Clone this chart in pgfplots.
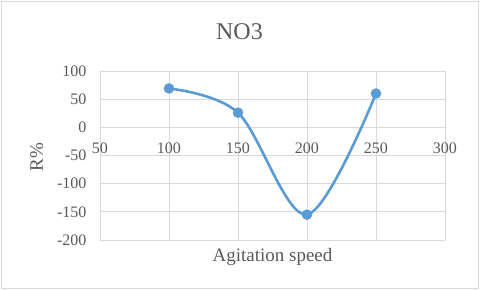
\documentclass[border=0pt]{standalone}
\usepackage{fontspec}
\setmainfont{Liberation Serif}
\usepackage{pgfplots}
\pgfplotsset{compat=1.18}
\definecolor{xlblue}{HTML}{5B9BD5}
\definecolor{xlgrid}{HTML}{D9D9D9}
\definecolor{xltext}{HTML}{595959}
\begin{document}
\begin{tikzpicture}[x=1pt,y=1pt]
\begin{axis}[
  name=ax,
  at={(0,0)}, anchor=south west,
  scale only axis,
  width=345pt, height=169pt,
  xmin=50, xmax=300, ymin=-200, ymax=100,
  xtick={50,100,...,300}, ytick={-200,-150,...,100},
  axis x line=middle, axis y line=left,
  hide obscured x ticks=false,
  hide obscured y ticks=false,
  x axis line style={draw=xlgrid, line width=0.8pt, -},
  y axis line style={draw=none},
  grid=major,
  major grid style={draw=xlgrid, line width=0.8pt},
  major tick length=0pt,
  /pgf/number format/assume math mode=true,
  tick label style={font=\fontsize{16}{18}\selectfont, text=xltext},
  xticklabel style={yshift=-12pt},
  yticklabel style={xshift=-10pt},
  title={NO3},
  title style={font=\fontsize{24}{28}\selectfont, text=xltext, at={(axis description cs:0.5,1)}, anchor=base, yshift=25.5pt, xshift=-33pt},
  xlabel={Agitation speed},
  xlabel style={font=\fontsize{19}{22}\selectfont, text=xltext, at={(axis description cs:0.5,0)}, anchor=base, yshift=-21.7pt},
  ylabel={R\%},
  ylabel style={font=\fontsize{19}{22}\selectfont, text=xltext, at={(axis description cs:0,0.5)}, anchor=base, yshift=57pt, xshift=-1.5pt},
  clip=false,
]
\addplot[color=xlblue, line width=2.6pt, smooth, tension=0.55, mark=*, mark size=5pt, mark options={fill=xlblue, draw=xlblue, line width=0.5pt}]
  coordinates {(100,69) (150,26) (200,-155) (250,60)};
\end{axis}
\draw[xlgrid, line width=0.8pt] (-98.5,-48.5) rectangle (378.5,238.5);
\path[use as bounding box] (-100,-50) rectangle (380,240);
\end{tikzpicture}
\end{document}
